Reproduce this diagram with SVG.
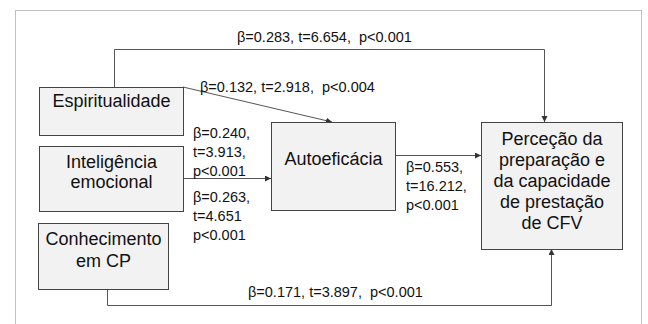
<svg xmlns="http://www.w3.org/2000/svg" width="648" height="324" viewBox="0 0 648 324">
  <defs>
    <marker id="arrow" markerUnits="userSpaceOnUse" markerWidth="8" markerHeight="8" refX="6" refY="3" orient="auto">
      <path d="M0,0 L6,3 L0,6 Z" fill="#333"/>
    </marker>
    <style>
      .box { fill: #f2f2f2; stroke: #444; stroke-width: 1; }
      .node-text { font-family: "Liberation Sans", Arial, sans-serif; font-size: 18px; fill: #111; text-anchor: middle; }
      .label { font-family: "Liberation Sans", Arial, sans-serif; font-size: 14.5px; fill: #111; white-space: pre; }
      .conn { fill: none; stroke: #555; stroke-width: 1; }
      .arrow { marker-end: url(#arrow); }
    </style>
  </defs>

  <rect x="0" y="0" width="648" height="324" fill="#ffffff"/>
  <!-- outer frame -->
  <rect x="15.5" y="10.5" width="626" height="330" fill="none" stroke="#c0c0c0" stroke-width="1"/>

  <!-- connectors and their coefficient labels -->
  <g id="connectors">
    <polyline class="conn arrow" points="114.5,87 114.5,49.5 544.5,49.5 544.5,122"/>
    <line class="conn arrow" x1="183" y1="87" x2="332" y2="122"/>
    <line class="conn arrow" x1="183" y1="178.5" x2="271" y2="178.5"/>
    <line class="conn arrow" x1="395" y1="155.5" x2="481" y2="155.5"/>
    <polyline class="conn arrow" points="107.5,289 107.5,305.5 551.5,305.5 551.5,249"/>

    <text class="label" x="237" y="42" xml:space="preserve">β=0.283, t=6.654,  p&lt;0.001</text>
    <text class="label" x="200" y="92" xml:space="preserve">β=0.132, t=2.918,  p&lt;0.004</text>
    <text class="label" x="193" y="138">β=0.240,</text>
    <text class="label" x="193" y="157">t=3.913,</text>
    <text class="label" x="193" y="176">p&lt;0.001</text>
    <text class="label" x="193" y="202">β=0.263,</text>
    <text class="label" x="193" y="221">t=4.651</text>
    <text class="label" x="193" y="240">p&lt;0.001</text>
    <text class="label" x="406" y="172">β=0.553,</text>
    <text class="label" x="406" y="191">t=16.212,</text>
    <text class="label" x="406" y="210">p&lt;0.001</text>
    <text class="label" x="248" y="297" xml:space="preserve">β=0.171, t=3.897,  p&lt;0.001</text>
  </g>

  <g id="espiritualidade">
    <rect class="box" x="39.5" y="87.5" width="144" height="48"/>
    <text class="node-text" x="111.5" y="107">Espiritualidade</text>
  </g>

  <g id="inteligencia-emocional">
    <rect class="box" x="39.5" y="146.5" width="144" height="65"/>
    <text class="node-text" x="111.5" y="168">Inteligência</text>
    <text class="node-text" x="111.5" y="188">emocional</text>
  </g>

  <g id="conhecimento-cp">
    <rect class="box" x="38.5" y="223.5" width="130" height="66"/>
    <text class="node-text" x="103.5" y="245">Conhecimento</text>
    <text class="node-text" x="103.5" y="267">em CP</text>
  </g>

  <g id="autoeficacia">
    <rect class="box" x="271.5" y="122.5" width="124" height="88"/>
    <text class="node-text" x="333.5" y="165">Autoeficácia</text>
  </g>

  <g id="percecao">
    <rect class="box" x="481.5" y="122.5" width="141" height="127"/>
    <text class="node-text" x="552" y="145">Perceção da</text>
    <text class="node-text" x="552" y="166">preparação e</text>
    <text class="node-text" x="552" y="187">da capacidade</text>
    <text class="node-text" x="552" y="208">de prestação</text>
    <text class="node-text" x="552" y="229">de CFV</text>
  </g>
</svg>
